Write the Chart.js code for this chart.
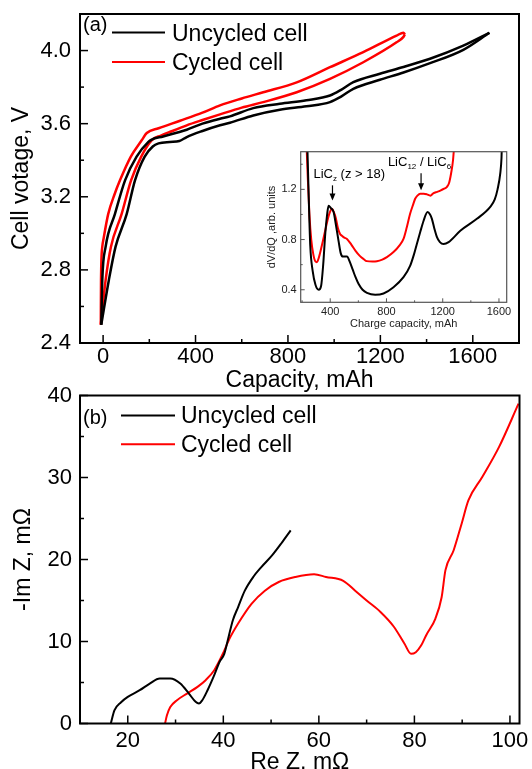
<!DOCTYPE html>
<html>
<head>
<meta charset="utf-8">
<script src="https://cdn.jsdelivr.net/npm/chart.js@4.4.1/dist/chart.umd.min.js"></script>
<style>
  html, body { margin: 0; padding: 0; background: #fff; overflow: hidden; }
  body { position: relative; width: 532px; height: 769px; }
  canvas { position: absolute; }
  #voltageChart { left: 0; top: 0; }
  #eisChart { left: 0; top: 375px; }
  #dvdqChart { left: 255px; top: 140px; }
</style>
</head>
<body>
<canvas id="voltageChart" width="532" height="400"></canvas>
<canvas id="eisChart" width="532" height="410"></canvas>
<canvas id="dvdqChart" width="262" height="200"></canvas>
<script>
const FONT = "'Liberation Sans', Arial, Helvetica, sans-serif";

// (a) cell voltage vs capacity, each cell has an upper and a lower branch
const uncycledUpCap = [-8, -3.5, 11, 51, 95, 145, 196, 210, 260, 362, 430, 506, 549, 650, 765, 880, 982, 1030, 1083, 1198, 1300, 1415, 1559, 1672];
const uncycledUpV = [2.50, 2.745, 2.927, 3.105, 3.29, 3.42, 3.50, 3.513, 3.53, 3.567, 3.60, 3.627, 3.64, 3.685, 3.709, 3.728, 3.754, 3.785, 3.827, 3.873, 3.91, 3.955, 4.027, 4.097];
const uncycledLowCap = [-8, 25, 54, 102, 138, 180, 215, 240, 289, 330, 362, 430, 506, 549, 650, 765, 880, 982, 1030, 1083, 1198, 1300, 1415, 1559, 1672];
const uncycledLowV = [2.50, 2.745, 2.927, 3.105, 3.29, 3.42, 3.475, 3.492, 3.50, 3.505, 3.527, 3.56, 3.591, 3.605, 3.645, 3.676, 3.695, 3.718, 3.748, 3.791, 3.84, 3.88, 3.931, 4.004, 4.097];
const cycledUpCap = [-10, -9, -3.5, 2, 22, 50, 73, 120, 167, 189, 240, 333, 430, 506, 600, 693, 838, 982, 1126, 1270, 1300, 1306];
const cycledUpV = [2.50, 2.745, 2.927, 2.97, 3.105, 3.215, 3.29, 3.42, 3.509, 3.549, 3.575, 3.616, 3.66, 3.70, 3.738, 3.772, 3.826, 3.909, 3.991, 4.082, 4.098, 4.088];
const cycledLowCap = [-10, 11, 34, 80, 121, 165, 210, 250, 300, 362, 430, 506, 600, 693, 838, 982, 1126, 1270, 1300, 1306];
const cycledLowV = [2.50, 2.745, 2.927, 3.105, 3.29, 3.42, 3.509, 3.535, 3.56, 3.591, 3.62, 3.651, 3.688, 3.718, 3.772, 3.845, 3.936, 4.045, 4.075, 4.088];
const capMajor = [0, 400, 800, 1200, 1600];
const capMinor = [200, 600, 1000, 1400];
const voltMajor = [2.4, 2.8, 3.2, 3.6, 4.0];
const voltMinor = [2.6, 3.0, 3.4, 3.8];

// inset: dV/dQ vs charge capacity
const dvdqUncycledCap = [236, 248, 258, 275, 295, 318, 335, 350, 365, 378, 388, 405, 424, 440, 459, 475, 490, 519, 540, 560, 580, 602, 630, 661, 720, 779, 850, 921, 968, 995, 1016, 1040, 1064, 1092, 1110, 1123, 1140, 1159, 1180, 1206, 1242, 1325, 1443, 1538, 1570, 1590, 1609, 1618, 1622];
const dvdqUncycled = [1.6, 1.1, 0.75, 0.55, 0.44, 0.40, 0.43, 0.6, 0.85, 1.0, 1.07, 1.05, 1.02, 0.92, 0.79, 0.69, 0.665, 0.665, 0.62, 0.56, 0.50, 0.445, 0.40, 0.375, 0.36, 0.37, 0.42, 0.50, 0.59, 0.68, 0.765, 0.86, 0.95, 1.02, 1.0, 0.965, 0.89, 0.82, 0.78, 0.765, 0.78, 0.87, 0.965, 1.06, 1.12, 1.20, 1.325, 1.45, 1.6];
const dvdqCycledCap = [230, 240, 252, 265, 280, 295, 305, 320, 340, 360, 380, 395, 412, 425, 440, 455, 470, 483, 500, 519, 550, 580, 610, 637, 660, 700, 732, 770, 803, 850, 890, 921, 945, 968, 990, 1004, 1020, 1040, 1065, 1088, 1112, 1135, 1160, 1183, 1210, 1230, 1245, 1260, 1273, 1285];
const dvdqCycled = [1.6, 1.3, 1.0, 0.8, 0.68, 0.625, 0.62, 0.66, 0.75, 0.85, 0.95, 1.01, 1.045, 1.02, 0.97, 0.89, 0.845, 0.83, 0.815, 0.805, 0.76, 0.71, 0.67, 0.645, 0.628, 0.625, 0.627, 0.64, 0.66, 0.70, 0.75, 0.805, 0.9, 1.005, 1.08, 1.125, 1.15, 1.165, 1.165, 1.16, 1.15, 1.17, 1.18, 1.19, 1.205, 1.22, 1.25, 1.33, 1.43, 1.6];
const insetCapMajor = [400, 800, 1200, 1600];
const insetCapMinor = [200, 600, 1000, 1400];
const insetValMajor = [0.4, 0.8, 1.2];
const insetValMinor = [0.6, 1.0, 1.4];

// (b) impedance spectra
const eisUncycledRe = [16.45, 17.2, 18.6, 20.0, 22.5, 24.6, 26.7, 28.9, 31.0, 32.8, 34.2, 34.9, 35.6, 36.7, 38.1, 39.2, 40.2, 41.1, 42.0, 43.1, 44.5, 46.3, 48.0, 50.2, 52.3, 54.1];
const eisUncycledIm = [0, 1.6, 2.6, 3.25, 4.06, 4.87, 5.48, 5.48, 4.87, 3.65, 2.64, 2.44, 2.84, 4.06, 5.9, 7.5, 8.5, 10.56, 12.6, 14.2, 16.2, 17.9, 19.1, 20.5, 22.1, 23.55];
const eisCycledRe = [27.8, 28.2, 28.9, 30.3, 32.4, 34.6, 36.3, 38.1, 39.9, 41.3, 43.1, 45.9, 48.7, 51.6, 55.1, 59.0, 61.5, 65.1, 67.6, 70.0, 72.9, 75.7, 77.9, 79.3, 80.3, 81.4, 82.5, 84.4, 85.7, 86.5, 88.2, 89.9, 91.3, 94.2, 97.7, 101.8];
const eisCycledIm = [0, 1.0, 2.0, 2.84, 3.65, 4.47, 5.28, 6.5, 8.5, 10.36, 12.2, 14.6, 16.2, 17.26, 17.87, 18.19, 17.87, 17.4, 16.2, 15.0, 13.6, 11.8, 9.75, 8.5, 8.7, 9.5, 10.8, 12.8, 15.4, 18.7, 21.1, 24.4, 27.2, 30.05, 33.7, 39.0];
const reMajor = [20, 40, 60, 80, 100];
const reMinor = [30, 50, 70, 90];
const imMajor = [0, 10, 20, 30, 40];
const imMinor = [5, 15, 25, 35];

const pts = (xs, ys) => xs.map((x, i) => ({ x: x, y: ys[i] }));

const line = (label, xs, ys, color, width) => ({
  label: label,
  data: pts(xs, ys),
  borderColor: color,
  borderWidth: width,
  pointRadius: 0,
  showLine: true,
  cubicInterpolationMode: "monotone",
});

// axis with only the major ticks labelled, sizes fixed so the plot box lands where it should
const axis = (min, max, major, title, o) => ({
  type: "linear",
  min: min,
  max: max,
  grid: { display: false, drawTicks: false },
  border: { display: false },
  afterBuildTicks: (s) => {
    s.ticks = major.map((v) => ({ value: v }));
  },
  afterFit: (s) => {
    if (s.isHorizontal()) s.height = o.size;
    else s.width = o.size;
    s.paddingLeft = s.paddingRight = s.paddingTop = s.paddingBottom = 0;
  },
  ticks: {
    autoSkip: false,
    maxRotation: 0,
    padding: o.pad,
    color: o.color || "#000",
    font: { family: FONT, size: o.tickSize },
    callback: o.fmt || ((v) => String(v)),
  },
  title: {
    display: true,
    text: title,
    color: o.color || "#000",
    font: { family: FONT, size: o.titleSize },
    padding: { top: o.tpad, bottom: o.tpad },
  },
});

// box round the plot plus inward major / minor ticks
const frame = (o) => ({
  id: "frame",
  afterDraw(chart) {
    const { ctx, chartArea: a, scales } = chart;
    ctx.save();
    ctx.strokeStyle = o.color;
    ctx.lineWidth = o.width;
    ctx.strokeRect(a.left, a.top, a.right - a.left, a.bottom - a.top);
    ctx.lineWidth = o.tickWidth;
    const mark = (scale, vals, len) => {
      vals.forEach((v) => {
        const p = scale.getPixelForValue(v);
        ctx.beginPath();
        if (scale.isHorizontal()) {
          ctx.moveTo(p, a.bottom);
          ctx.lineTo(p, a.bottom - len);
        } else {
          ctx.moveTo(a.left, p);
          ctx.lineTo(a.left + len, p);
        }
        ctx.stroke();
      });
    };
    mark(scales.x, o.xMajor, o.major);
    mark(scales.x, o.xMinor, o.minor);
    mark(scales.y, o.yMajor, o.major);
    mark(scales.y, o.yMinor, o.minor);
    ctx.restore();
  },
});

// panel tag and legend drawn inside the plot
const legendBox = (o) => ({
  id: "legendBox",
  afterDraw(chart) {
    const { ctx, chartArea: a } = chart;
    const items = chart.data.datasets.filter((d) => d.label);
    ctx.save();
    ctx.fillStyle = "#000";
    ctx.textBaseline = "alphabetic";
    ctx.font = `20px ${FONT}`;
    ctx.fillText(o.tag, a.left + o.tagX, a.top + o.tagY);
    ctx.font = `23px ${FONT}`;
    items.forEach((d, i) => {
      const y = a.top + o.lineY + i * o.step;
      ctx.strokeStyle = d.borderColor;
      ctx.lineWidth = 2;
      ctx.beginPath();
      ctx.moveTo(a.left + o.x0, y);
      ctx.lineTo(a.left + o.x1, y);
      ctx.stroke();
      ctx.fillText(d.label, a.left + o.textX, y + o.textDy);
    });
    ctx.restore();
  },
});

const baseOptions = (padding) => ({
  responsive: false,
  animation: false,
  devicePixelRatio: 1,
  layout: { padding: padding },
  plugins: { legend: { display: false }, tooltip: { enabled: false } },
});

// Panel (a)
new Chart(document.getElementById("voltageChart"), {
  type: "scatter",
  data: {
    datasets: [
      line("Uncycled cell", uncycledUpCap, uncycledUpV, "#000000", 2.5),
      line("", uncycledLowCap, uncycledLowV, "#000000", 2.5),
      line("Cycled cell", cycledUpCap, cycledUpV, "#ff0000", 2.5),
      line("", cycledLowCap, cycledLowV, "#ff0000", 2.5),
    ],
  },
  options: {
    ...baseOptions({ left: 0, right: 13, top: 14, bottom: 0 }),
    scales: {
      x: axis(-100, 1800, capMajor, "Capacity, mAh", { size: 57, pad: 0.5, tickSize: 22, titleSize: 23, tpad: 6 }),
      y: axis(2.4, 4.2, voltMajor, "Cell votage, V", { size: 80, pad: 9, tickSize: 22, titleSize: 23, tpad: 7.5, fmt: (v) => v.toFixed(1) }),
    },
  },
  plugins: [
    frame({ color: "#000", width: 2, tickWidth: 1.5, major: 8, minor: 4, xMajor: capMajor, xMinor: capMinor, yMajor: voltMajor, yMinor: voltMinor }),
    legendBox({ tag: "(a)", tagX: 3, tagY: 17, lineY: 18.5, step: 29.5, x0: 32, x1: 85, textX: 92, textDy: 8 }),
  ],
});

// Panel (b)
new Chart(document.getElementById("eisChart"), {
  type: "scatter",
  data: {
    datasets: [
      line("Uncycled cell", eisUncycledRe, eisUncycledIm, "#000000", 2),
      line("Cycled cell", eisCycledRe, eisCycledIm, "#ff0000", 2),
    ],
  },
  options: {
    ...baseOptions({ left: 0, right: 12.5, top: 20.5, bottom: 0 }),
    scales: {
      x: axis(10, 102, reMajor, "Re Z, mΩ", { size: 61.5, pad: 4, tickSize: 22, titleSize: 23, tpad: 8.7 }),
      y: axis(0, 40, imMajor, "-Im Z, mΩ", { size: 80, pad: 8, tickSize: 22, titleSize: 23, tpad: 9.9 }),
    },
  },
  plugins: [
    frame({ color: "#000", width: 2, tickWidth: 1.5, major: 8, minor: 4, xMajor: reMajor, xMinor: reMinor, yMajor: imMajor, yMinor: imMinor }),
    legendBox({ tag: "(b)", tagX: 3, tagY: 28.4, lineY: 20, step: 28.8, x0: 41, x1: 95, textX: 101, textDy: 7.4 }),
  ],
});

// Inset labels: text with subscripts and arrows, placed in data coordinates
const insetNotes = {
  id: "insetNotes",
  afterDraw(chart) {
    const { ctx, scales } = chart;
    const X = (v) => scales.x.getPixelForValue(v);
    const Y = (v) => scales.y.getPixelForValue(v);
    const write = (x, y, parts) => {
      parts.forEach(([t, sub]) => {
        ctx.font = `${sub ? 8 : 13}px ${FONT}`;
        ctx.fillText(t, x, sub ? y + 3 : y);
        x += ctx.measureText(t).width;
      });
    };
    const arrow = (x, y0, y1) => {
      const px = X(x), a = Y(y0), b = Y(y1);
      ctx.beginPath();
      ctx.moveTo(px, a);
      ctx.lineTo(px, b - 2);
      ctx.stroke();
      ctx.beginPath();
      ctx.moveTo(px, b);
      ctx.lineTo(px - 3, b - 7);
      ctx.lineTo(px + 3, b - 7);
      ctx.closePath();
      ctx.fill();
    };
    ctx.save();
    ctx.fillStyle = "#000";
    ctx.strokeStyle = "#000";
    ctx.lineWidth = 1.2;
    ctx.textBaseline = "alphabetic";
    write(X(281), Y(1.294), [["LiC", false], ["z", true], [" (z > 18)", false]]);
    write(X(810), Y(1.384), [["LiC", false], ["12", true], [" / LiC", false], ["6", true]]);
    arrow(416, 1.232, 1.112);
    arrow(1046, 1.328, 1.192);
    ctx.restore();
  },
};

// Inset
new Chart(document.getElementById("dvdqChart"), {
  type: "scatter",
  data: {
    datasets: [
      line("", dvdqUncycledCap, dvdqUncycled, "#000000", 2),
      line("", dvdqCycledCap, dvdqCycled, "#ff0000", 2),
    ],
  },
  options: {
    ...baseOptions({ left: 0, right: 10.3, top: 11.7, bottom: 0 }),
    scales: {
      x: axis(190, 1655, insetCapMajor, "Charge capacity, mAh", { size: 37.7, pad: 3, tickSize: 11, titleSize: 11, tpad: 9.1, color: "#222" }),
      y: axis(0.3, 1.5, insetValMajor, "dV/dQ ,arb. units", { size: 45.7, pad: 4, tickSize: 11, titleSize: 11, tpad: 10.1, color: "#222", fmt: (v) => v.toFixed(1) }),
    },
  },
  plugins: [
    frame({ color: "#555", width: 1.2, tickWidth: 1, major: 4, minor: 2, xMajor: insetCapMajor, xMinor: insetCapMinor, yMajor: insetValMajor, yMinor: insetValMinor }),
    insetNotes,
  ],
});
</script>
</body>
</html>
